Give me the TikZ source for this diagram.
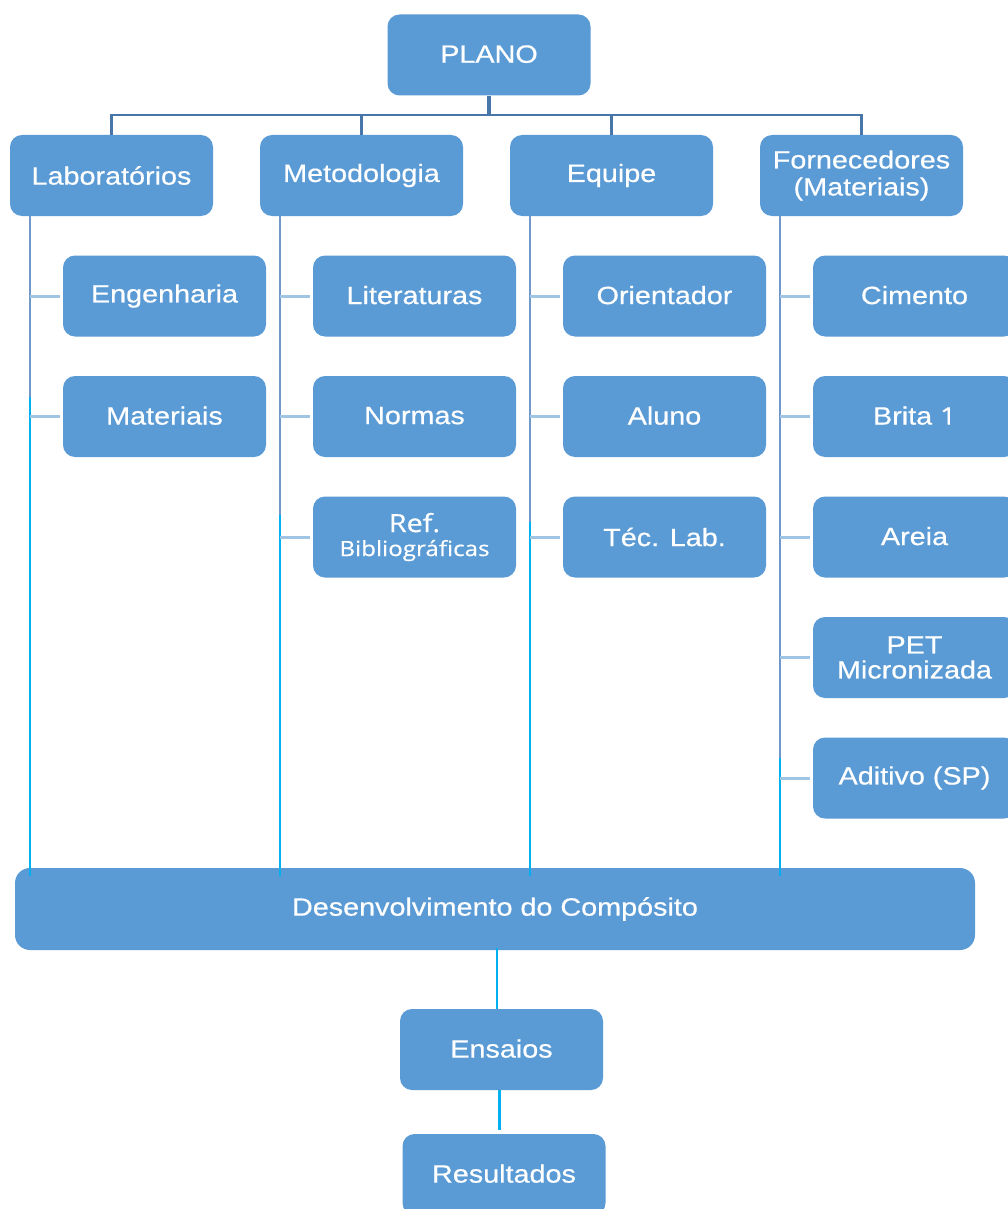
\documentclass[tikz,border=0pt]{standalone}
\usepackage{fontspec}
\setmainfont{Liberation Sans}[FakeStretch=1.15,FakeBold=0.5]
\newfontfamily\osans{Open Sans}[FakeStretch=1.15,FakeBold=0.5]
\definecolor{boxc}{RGB}{91,155,213}
\definecolor{busc}{RGB}{72,118,168}
\definecolor{vgray}{RGB}{112,152,200}
\definecolor{vcyan}{RGB}{0,176,240}
\definecolor{stubc}{RGB}{160,196,228}
\begin{document}
\begin{tikzpicture}[x=1pt,y=-1pt,
  box/.style={fill=boxc, rounded corners=12pt, minimum width=203pt, minimum height=81pt,
    text=white, font=\fontsize{25}{25}\selectfont, align=center, inner sep=0pt},
  widebox/.style={box, minimum width=960pt, minimum height=82pt, rounded corners=15pt},
  busline/.style={draw=busc, line width=2.2pt},
  busthick/.style={draw=busc, line width=4pt},
  vline/.style={draw=vgray, line width=2.2pt},
  cline/.style={draw=vcyan, line width=2.2pt},
  stubline/.style={draw=stubc, line width=3pt}]
\fill[white] (0,0) rectangle (1007,1209);
\useasboundingbox (0,0) rectangle (1007,1209);

% top
\node[box] (plano) at (489,55) {\raisebox{2pt}{PLANO}};
\node[box] (lab) at (111.5,175.5) {Laboratórios};
\node[box] (met) at (361.5,175.5) {\raisebox{1pt}{Metodologia}};
\node[box] (equ) at (611.5,175.5) {\raisebox{1pt}{Equipe}};
\node[box] (forn) at (861.5,175.5) {\raisebox{2pt}{Fornecedores}\\(Materiais)};

% children
\node[box] (eng) at (164.5,296) {\raisebox{1pt}{Engenharia}};
\node[box] (mat) at (164.5,416.5) {\raisebox{2pt}{Materiais}};
\node[box] (lit) at (414.5,296) {\raisebox{2pt}{Literaturas}};
\node[box] (nor) at (414.5,416.5) {\raisebox{2pt}{Normas}};
\node[box] (ref) at (414.5,537) {{\osans Ref.}\\[-1pt]{\osans\fontsize{21}{21}\selectfont Bibliográficas}};
\node[box] (ori) at (664.5,296) {\raisebox{2pt}{Orientador}};
\node[box] (alu) at (664.5,416.5) {\raisebox{2pt}{Aluno}};
\node[box] (tec) at (664.5,537) {Téc. Lab.};
\node[box] (cim) at (914.5,296) {\raisebox{2pt}{Cimento}};
\node[box] (bri) at (914.5,416.5) {\raisebox{2pt}{Brita {\osans\fontsize{24}{24}\selectfont 1}}};
\node[box] (are) at (914.5,537) {\raisebox{2pt}{Areia}};
\node[box] (pet) at (914.5,657.5) {PET\\Micronizada};
\node[box] (adi) at (914.5,778) {\raisebox{2pt}{Aditivo (SP)}};

% bottom
\node[widebox] (des) at (495,909) {\raisebox{2pt}{Desenvolvimento do Compósito}};
\node[box] (ens) at (501.5,1049.5) {\raisebox{2pt}{Ensaios}};
\node[box] (res) at (504,1174.5) {\raisebox{2pt}{Resultados}};

% top bus
\coordinate (bus) at (489,115);
\draw[busline] (lab.north) -- (lab.north |- bus) -- (forn.north |- bus) -- (forn.north);
\draw[busline] (met.north) -- (met.north |- bus);
\draw[busline] (equ.north) -- (equ.north |- bus);
\draw[busthick] (plano.south) -- (bus);

% vertical lines
\coordinate (labv) at ([xshift=20pt]lab.south west);
\coordinate (metv) at ([xshift=20pt]met.south west);
\coordinate (equv) at ([xshift=20pt]equ.south west);
\coordinate (fornv) at ([xshift=20pt]forn.south west);
\coordinate (desin) at ([yshift=-8pt]des.north);

\coordinate (labm) at ([yshift=20pt]labv |- mat.west);
\coordinate (metm) at ([yshift=22pt]metv |- ref.west);
\coordinate (equm) at ([yshift=15pt]equv |- tec.west);
\coordinate (fornm) at ([yshift=20pt]fornv |- adi.west);

\draw[vline] (labv) -- (labm);
\draw[vline] (metv) -- (metm);
\draw[vline] (equv) -- (equm);
\draw[vline] (fornv) -- (fornm);
\draw[cline] (labm) -- (labv |- desin);
\draw[cline] (metm) -- (metv |- desin);
\draw[cline] (equm) -- (equv |- desin);
\draw[cline] (fornm) -- (fornv |- desin);

% stubs
\foreach \c/\v in {eng/labv, mat/labv, lit/metv, nor/metv, ref/metv,
                   ori/equv, alu/equv, tec/equv,
                   cim/fornv, bri/fornv, are/fornv, pet/fornv, adi/fornv}
  \draw[stubline] (\v |- \c.west) -- ([xshift=-3pt]\c.west);

% bottom chain
\coordinate (ex1) at (497,0);
\coordinate (ex2) at (499.5,0);
\draw[cline] ([yshift=2pt]des.south -| ex1) -- (ens.north -| ex1);
\draw[cline] (ens.south -| ex2) -- ([yshift=4pt]res.north -| ex2);
\end{tikzpicture}
\end{document}
